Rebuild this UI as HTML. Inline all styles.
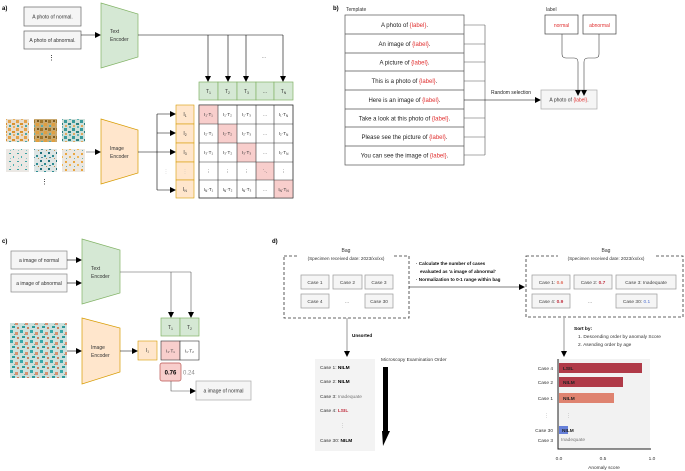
<!DOCTYPE html>
<html><head><meta charset="utf-8"><style>
html,body{margin:0;padding:0;background:#fff;}
svg{display:block;font-family:"Liberation Sans",sans-serif;}
</style></head><body>
<svg width="685" height="471" viewBox="0 0 685 471" xmlns="http://www.w3.org/2000/svg">
<defs>
<marker id="ar" markerWidth="6" markerHeight="6" refX="5" refY="3" orient="auto" markerUnits="userSpaceOnUse"><path d="M0,0 L6,3 L0,6 z" fill="#000"/></marker>
<pattern id="pA" width="8" height="8" patternUnits="userSpaceOnUse"><rect width="8" height="8" fill="#e8dccb"/><rect x="0" y="0" width="3" height="3" fill="#e3a34a"/><rect x="4" y="3" width="3" height="2" fill="#d9922e"/><rect x="1" y="5" width="2" height="2" fill="#4aa6a6"/><rect x="5" y="6" width="2" height="2" fill="#e6b060"/></pattern>
<pattern id="pB" width="8" height="8" patternUnits="userSpaceOnUse"><rect width="8" height="8" fill="#c9a970"/><rect x="0" y="0" width="3" height="3" fill="#a0762a"/><rect x="4" y="3" width="3" height="3" fill="#e0a040"/><rect x="1" y="5" width="2" height="2" fill="#5aaeae"/><rect x="5" y="0" width="2" height="2" fill="#7a5a20"/></pattern>
<pattern id="pC" width="8" height="8" patternUnits="userSpaceOnUse"><rect width="8" height="8" fill="#cfe0da"/><rect x="0" y="0" width="3" height="3" fill="#3a9a9a"/><rect x="4" y="3" width="3" height="2" fill="#2c8080"/><rect x="1" y="5" width="2" height="2" fill="#e0a860"/><rect x="5" y="6" width="2" height="2" fill="#60b0b0"/></pattern>
<pattern id="pD" width="8" height="8" patternUnits="userSpaceOnUse"><rect width="8" height="8" fill="#ebe8e4"/><rect x="1" y="1" width="2" height="1" fill="#3aa0a0"/><rect x="5" y="4" width="1" height="2" fill="#4ab0b0"/><rect x="2" y="6" width="1" height="1" fill="#88c8c8"/></pattern>
<pattern id="pE" width="8" height="8" patternUnits="userSpaceOnUse"><rect width="8" height="8" fill="#dde5e4"/><rect x="0" y="0" width="2" height="2" fill="#1f6e78"/><rect x="4" y="3" width="2" height="2" fill="#2a8a90"/><rect x="1" y="5" width="2" height="1" fill="#508f9a"/><rect x="6" y="6" width="1" height="1" fill="#c09050"/></pattern>
<pattern id="pF" width="8" height="8" patternUnits="userSpaceOnUse"><rect width="8" height="8" fill="#ece7e0"/><rect x="1" y="1" width="2" height="2" fill="#e9a640"/><rect x="5" y="4" width="2" height="2" fill="#efb858"/><rect x="2" y="6" width="1" height="1" fill="#6ab0b0"/></pattern>
<pattern id="pG" width="10" height="10" patternUnits="userSpaceOnUse"><rect width="10" height="10" fill="#cde0dc"/><rect x="0" y="0" width="3" height="3" fill="#3aa8a8"/><rect x="5" y="2" width="3" height="3" fill="#d89070"/><rect x="2" y="6" width="3" height="2" fill="#2f9a9a"/><rect x="7" y="7" width="2" height="2" fill="#c88060"/><rect x="4" y="4" width="1" height="1" fill="#5bb8b0"/></pattern>
</defs>

<g font-size="5" fill="#000">
<!-- ===== a ===== -->
<text x="2" y="10" font-weight="bold" font-size="6">a)</text>
<rect x="24" y="7" width="57" height="19" fill="#f5f5f5" stroke="#666" stroke-width="0.7"/>
<text x="52.5" y="18.5" text-anchor="middle" fill="#333">A photo of normal.</text>
<rect x="24" y="31" width="57" height="18" fill="#f5f5f5" stroke="#666" stroke-width="0.7"/>
<text x="52.5" y="42" text-anchor="middle" fill="#333">A photo of abnormal.</text>
<text x="51.5" y="60" text-anchor="middle" font-size="7">⋮</text>
<line x1="81" y1="35" x2="100" y2="35" stroke="#000" stroke-width="0.6" marker-end="url(#ar)"/>
<polygon points="101,3 138,14 138,57 101,68" fill="#d5e8d4" stroke="#82b366" stroke-width="0.7"/>
<text x="110" y="33" fill="#333">Text</text><text x="110" y="41" fill="#333">Encoder</text>
<path d="M138,35 H283" fill="none" stroke="#000" stroke-width="0.6"/>
<g stroke="#000" stroke-width="0.6">
<line x1="208" y1="35" x2="208" y2="81" marker-end="url(#ar)"/>
<line x1="228" y1="35" x2="228" y2="81" marker-end="url(#ar)"/>
<line x1="246" y1="35" x2="246" y2="81" marker-end="url(#ar)"/>
<line x1="283" y1="35" x2="283" y2="81" marker-end="url(#ar)"/>
</g>
<text x="264" y="58" text-anchor="middle" fill="#555">...</text>
<g fill="#d5e8d4" stroke="#82b366" stroke-width="0.7">
<rect x="199" y="82" width="19" height="18"/><rect x="218" y="82" width="19" height="18"/><rect x="237" y="82" width="19" height="18"/><rect x="256" y="82" width="18" height="18"/><rect x="274" y="82" width="19" height="18"/>
</g>
<g text-anchor="middle" fill="#333">
<text x="208.5" y="93">T<tspan font-size="3.5" dy="1">1</tspan></text>
<text x="227.5" y="93">T<tspan font-size="3.5" dy="1">2</tspan></text>
<text x="246.5" y="93">T<tspan font-size="3.5" dy="1">3</tspan></text>
<text x="265" y="93">...</text>
<text x="283.5" y="93">T<tspan font-size="3.5" dy="1">N</tspan></text>
</g>
<!-- images -->
<rect x="6" y="119" width="23" height="23" fill="url(#pA)"/>
<rect x="34" y="119" width="23" height="23" fill="url(#pB)"/>
<rect x="62" y="119" width="23" height="23" fill="url(#pC)"/>
<rect x="6" y="149" width="23" height="23" fill="url(#pD)"/>
<rect x="34" y="149" width="23" height="23" fill="url(#pE)"/>
<rect x="62" y="149" width="23" height="23" fill="url(#pF)"/>
<text x="44.5" y="184" text-anchor="middle" font-size="7">⋮</text>
<line x1="86" y1="152" x2="100" y2="152" stroke="#666" stroke-width="0.6" marker-end="url(#ar)"/>
<polygon points="101,119 138,130 138,173 101,184" fill="#ffe6cc" stroke="#d79b00" stroke-width="0.7"/>
<text x="110" y="150" fill="#333">Image</text><text x="110" y="158" fill="#333">Encoder</text>
<path d="M138,152 H157 M157,114 V190" fill="none" stroke="#000" stroke-width="0.6"/>
<g stroke="#000" stroke-width="0.6">
<line x1="157" y1="114" x2="175" y2="114" marker-end="url(#ar)"/>
<line x1="157" y1="133" x2="175" y2="133" marker-end="url(#ar)"/>
<line x1="157" y1="152" x2="175" y2="152" marker-end="url(#ar)"/>
<line x1="157" y1="190" x2="175" y2="190" marker-end="url(#ar)"/>
</g>
<text x="166" y="173" text-anchor="middle" fill="#aaa">⋮</text>
<g fill="#ffe6cc" stroke="#d79b00" stroke-width="0.6">
<rect x="176" y="105" width="18" height="19"/><rect x="176" y="124" width="18" height="19"/><rect x="176" y="143" width="18" height="19"/><rect x="176" y="162" width="18" height="18"/><rect x="176" y="180" width="18" height="18"/>
</g>
<g text-anchor="middle" fill="#333">
<text x="185" y="116">I<tspan font-size="3.5" dy="1">1</tspan></text>
<text x="185" y="135">I<tspan font-size="3.5" dy="1">2</tspan></text>
<text x="185" y="154">I<tspan font-size="3.5" dy="1">3</tspan></text>
<text x="185" y="173" fill="#aaa">⋮</text>
<text x="185" y="191">I<tspan font-size="3.5" dy="1">N</tspan></text>
</g>
<!-- matrix -->
<g stroke="#333" stroke-width="0.6" fill="#fff">
<rect x="199" y="105" width="94" height="93"/>
</g>
<g fill="#f8cecc">
<rect x="199" y="105" width="19" height="19"/><rect x="218" y="124" width="19" height="19"/><rect x="237" y="143" width="19" height="19"/><rect x="256" y="162" width="18" height="18"/><rect x="274" y="180" width="19" height="18"/>
</g>
<g stroke="#333" stroke-width="0.6" fill="none">
<path d="M218,105V198 M237,105V198 M256,105V198 M274,105V198 M199,124H293 M199,143H293 M199,162H293 M199,180H293"/>
<rect x="199" y="105" width="94" height="93"/>
</g>
<g text-anchor="middle" fill="#333" font-size="4.6">
<text x="208.5" y="116">I₁·T₁</text><text x="227.5" y="116">I₁·T₂</text><text x="246.5" y="116">I₁·T₃</text><text x="265" y="116">...</text><text x="283.5" y="116">I₁·T<tspan font-size="3.2" dy="1">N</tspan></text>
<text x="208.5" y="135">I₂·T₁</text><text x="227.5" y="135">I₂·T₂</text><text x="246.5" y="135">I₂·T₃</text><text x="265" y="135">...</text><text x="283.5" y="135">I₂·T<tspan font-size="3.2" dy="1">N</tspan></text>
<text x="208.5" y="154">I₃·T₁</text><text x="227.5" y="154">I₃·T₂</text><text x="246.5" y="154">I₃·T₃</text><text x="265" y="154">...</text><text x="283.5" y="154">I₃·T<tspan font-size="3.2" dy="1">N</tspan></text>
<text x="208.5" y="173">⋮</text><text x="227.5" y="173">⋮</text><text x="246.5" y="173">⋮</text><text x="265" y="173">⋱</text><text x="283.5" y="173">⋮</text>
<text x="208.5" y="191">I<tspan font-size="3.2" dy="1">N</tspan><tspan dy="-1">·T₁</tspan></text><text x="227.5" y="191">I<tspan font-size="3.2" dy="1">N</tspan><tspan dy="-1">·T₂</tspan></text><text x="246.5" y="191">I<tspan font-size="3.2" dy="1">N</tspan><tspan dy="-1">·T₃</tspan></text><text x="265" y="191">...</text><text x="283.5" y="191">I<tspan font-size="3.2" dy="1">N</tspan><tspan dy="-1">·T</tspan><tspan font-size="3.2" dy="1">N</tspan></text>
</g>

<!-- ===== b ===== -->
<text x="333" y="10" font-weight="bold" font-size="6">b)</text>
<text x="346" y="11" fill="#333">Template</text>
<g stroke="#555" stroke-width="0.7" fill="#fff">
<rect x="345" y="15" width="119" height="150"/>
</g>
<path d="M345,34H464 M345,53H464 M345,71H464 M345,90H464 M345,109H464 M345,127H464 M345,146H464" stroke="#555" stroke-width="0.7"/>
<g font-size="6" text-anchor="middle" fill="#222">
<text x="404.5" y="27">A photo of <tspan fill="#e03030">{label}</tspan>.</text>
<text x="404.5" y="46">An image of <tspan fill="#e03030">{label}</tspan>.</text>
<text x="404.5" y="64.5">A picture of <tspan fill="#e03030">{label}</tspan>.</text>
<text x="404.5" y="83">This is a photo of <tspan fill="#e03030">{label}</tspan>.</text>
<text x="404.5" y="102">Here is an image of <tspan fill="#e03030">{label}</tspan>.</text>
<text x="404.5" y="120.5">Take a look at this photo of <tspan fill="#e03030">{label}</tspan>.</text>
<text x="404.5" y="139">Please see the picture of <tspan fill="#e03030">{label}</tspan>.</text>
<text x="404.5" y="157.5">You can see the image of <tspan fill="#e03030">{label}</tspan>.</text>
</g>
<path d="M464,25H485 M464,44H485 M464,62H485 M464,81H485 M464,118H485 M464,137H485 M464,155H485 M485,25V155" stroke="#555" stroke-width="0.6" fill="none"/>
<line x1="464" y1="100" x2="540" y2="100" stroke="#000" stroke-width="0.6" marker-end="url(#ar)"/>
<text x="491" y="94" fill="#222">Random selection</text>
<rect x="541" y="90" width="56" height="19" fill="#f5f5f5" stroke="#aaa" stroke-width="0.7"/>
<text x="569" y="101.5" text-anchor="middle" fill="#333">A photo of <tspan fill="#e03030">{label}</tspan>.</text>
<text x="546" y="11" fill="#333">label</text>
<rect x="545" y="15" width="33" height="19" fill="#fff" stroke="#444" stroke-width="0.7"/>
<rect x="583" y="15" width="33" height="19" fill="#fff" stroke="#444" stroke-width="0.7"/>
<text x="561.5" y="27" text-anchor="middle" fill="#e03030">normal</text>
<text x="599.5" y="27" text-anchor="middle" fill="#e03030">abnormal</text>
<path d="M562,34 V54 Q562,58 566,58 H574 Q578,58 578,62 V95" fill="none" stroke="#444" stroke-width="0.6" marker-end="url(#ar)"/>
<path d="M599,34 V54 Q599,58 595,58 H588 Q584,58 584,62 V95" fill="none" stroke="#444" stroke-width="0.6" marker-end="url(#ar)"/>

<!-- ===== c ===== -->
<text x="2" y="243" font-weight="bold" font-size="6">c)</text>
<rect x="11" y="251" width="56" height="18" fill="#f5f5f5" stroke="#888" stroke-width="0.7"/>
<text x="39" y="262" text-anchor="middle" fill="#333">a image of normal</text>
<rect x="11" y="274" width="56" height="18" fill="#f5f5f5" stroke="#888" stroke-width="0.7"/>
<text x="39" y="285" text-anchor="middle" fill="#333">a image of abnormal</text>
<line x1="67" y1="260" x2="81" y2="260" stroke="#000" stroke-width="0.6" marker-end="url(#ar)"/>
<line x1="67" y1="283" x2="81" y2="283" stroke="#000" stroke-width="0.6" marker-end="url(#ar)"/>
<polygon points="82,239 120,250 120,293 82,304" fill="#d5e8d4" stroke="#82b366" stroke-width="0.7"/>
<text x="91" y="270" fill="#333">Text</text><text x="91" y="278" fill="#333">Encoder</text>
<path d="M120,272H191" stroke="#555" stroke-width="0.6" fill="none"/>
<line x1="171" y1="272" x2="171" y2="317" stroke="#555" stroke-width="0.6" marker-end="url(#ar)"/>
<line x1="191" y1="272" x2="191" y2="317" stroke="#555" stroke-width="0.6" marker-end="url(#ar)"/>
<rect x="161" y="318" width="19" height="18" fill="#d5e8d4" stroke="#82b366" stroke-width="0.7"/>
<rect x="180" y="318" width="19" height="18" fill="#d5e8d4" stroke="#82b366" stroke-width="0.7"/>
<text x="170.5" y="329" text-anchor="middle" fill="#333">T<tspan font-size="3.5" dy="1">1</tspan></text>
<text x="189.5" y="329" text-anchor="middle" fill="#333">T<tspan font-size="3.5" dy="1">2</tspan></text>
<rect x="10" y="323" width="57" height="55" fill="url(#pG)"/>
<line x1="67" y1="351" x2="81" y2="351" stroke="#000" stroke-width="0.6" marker-end="url(#ar)"/>
<polygon points="82,318 120,328 120,372 82,384" fill="#ffe6cc" stroke="#d79b00" stroke-width="0.7"/>
<text x="91" y="349" fill="#333">Image</text><text x="91" y="357" fill="#333">Encoder</text>
<line x1="120" y1="351" x2="137" y2="351" stroke="#000" stroke-width="0.6" marker-end="url(#ar)"/>
<rect x="138" y="341" width="19" height="19" fill="#ffe6cc" stroke="#d79b00" stroke-width="0.6"/>
<text x="147.5" y="352" text-anchor="middle" fill="#333">I₁</text>
<rect x="161" y="341" width="19" height="19" fill="#f8cecc" stroke="#333" stroke-width="0.6"/>
<rect x="180" y="341" width="19" height="19" fill="#fff" stroke="#333" stroke-width="0.6"/>
<text x="170.5" y="352.5" text-anchor="middle" font-size="4.6" fill="#333">I₁·T₁</text>
<text x="189.5" y="352.5" text-anchor="middle" font-size="4.6" fill="#333">I₁·T₂</text>
<rect x="160" y="363" width="21" height="18" rx="2" fill="#f8cecc" stroke="#b85450" stroke-width="0.7"/>
<text x="170.5" y="374.5" text-anchor="middle" font-weight="bold" font-size="6">0.76</text>
<text x="183" y="374.5" font-size="6" fill="#888">0.24</text>
<path d="M171,381V391H195" fill="none" stroke="#555" stroke-width="0.6" marker-end="url(#ar)"/>
<rect x="196" y="381" width="55" height="19" fill="#f5f5f5" stroke="#aaa" stroke-width="0.7"/>
<text x="223.5" y="392.5" text-anchor="middle" fill="#333">a image of normal</text>

<!-- ===== d ===== -->
<text x="272" y="243" font-weight="bold" font-size="6">d)</text>
<text x="346" y="252" text-anchor="middle" fill="#333">Bag</text>
<rect x="284" y="256" width="125" height="62" fill="none" stroke="#333" stroke-width="0.8" stroke-dasharray="3,2"/>
<rect x="298" y="255" width="96" height="6" fill="#fff"/>
<text x="346" y="260" text-anchor="middle" fill="#333" font-size="4.6">(Specimen received date: 2023/xx/xx)</text>
<g fill="#f5f5f5" stroke="#999" stroke-width="0.7">
<rect x="301" y="275" width="28" height="14"/><rect x="333" y="275" width="29" height="14"/><rect x="365" y="275" width="28" height="14"/>
<rect x="301" y="294" width="28" height="14"/><rect x="365" y="294" width="28" height="14"/>
</g>
<g text-anchor="middle" fill="#444" font-size="4.8">
<text x="315" y="284">Case 1</text><text x="347.5" y="284">Case 2</text><text x="379" y="284">Case 3</text>
<text x="315" y="303">Case 4</text><text x="347" y="303">...</text><text x="379" y="303">Case 30</text>
</g>
<line x1="409" y1="287" x2="524" y2="287" stroke="#000" stroke-width="0.6" marker-end="url(#ar)"/>
<g font-weight="bold" font-size="4.6" fill="#111">
<text x="416" y="265">· Calculate the number of cases</text>
<text x="420" y="273">evaluated as 'a image of abnormal'</text>
<text x="416" y="281">· Normalization to 0-1 range within bag</text>
</g>
<text x="606" y="252" text-anchor="middle" fill="#333">Bag</text>
<rect x="526" y="256" width="157" height="61" fill="none" stroke="#333" stroke-width="0.8" stroke-dasharray="3,2"/>
<rect x="558" y="255" width="96" height="6" fill="#fff"/>
<text x="606" y="260" text-anchor="middle" fill="#333" font-size="4.6">(Specimen received date: 2023/xx/xx)</text>
<g fill="#f5f5f5" stroke="#999" stroke-width="0.7">
<rect x="532" y="275" width="38" height="14"/><rect x="574" y="275" width="38" height="14"/><rect x="616" y="275" width="60" height="14"/>
<rect x="532" y="294" width="38" height="14"/><rect x="616" y="294" width="41" height="14"/>
</g>
<g text-anchor="middle" fill="#444" font-size="4.8">
<text x="551" y="284">Case 1: <tspan fill="#e07060" font-weight="bold">0.6</tspan></text>
<text x="593" y="284">Case 2: <tspan fill="#c03040" font-weight="bold">0.7</tspan></text>
<text x="646" y="284">Case 3: Inadequate</text>
<text x="551" y="303">Case 4: <tspan fill="#c03040" font-weight="bold">0.9</tspan></text>
<text x="590" y="303">...</text>
<text x="636.5" y="303">Case 30: <tspan fill="#5070d0">0.1</tspan></text>
</g>
<!-- left down -->
<line x1="347" y1="318" x2="347" y2="356" stroke="#555" stroke-width="0.6" marker-end="url(#ar)"/>
<text x="352" y="337" font-weight="bold" font-size="4.6">Unsorted</text>
<rect x="315" y="359" width="60" height="92" fill="#f3f3f3"/>
<g font-size="4.8" fill="#333">
<text x="320" y="369">Case 1: <tspan font-weight="bold" fill="#000">NILM</tspan></text>
<text x="320" y="383">Case 2: <tspan font-weight="bold" fill="#000">NILM</tspan></text>
<text x="320" y="398">Case 3: <tspan fill="#777">Inadequate</tspan></text>
<text x="320" y="412">Case 4: <tspan font-weight="bold" fill="#c03040">LSIL</tspan></text>
<text x="340" y="427" fill="#888">⋮</text>
<text x="320" y="442">Case 30: <tspan font-weight="bold" fill="#000">NILM</tspan></text>
</g>
<text x="381" y="361" font-size="4.8" fill="#333">Microscopy Examination Order</text>
<polygon points="383,367 388,367 388,431 390,431 383,446 382,431 383,431" fill="#000"/>
<!-- right down -->
<line x1="564" y1="318" x2="564" y2="356" stroke="#555" stroke-width="0.6" marker-end="url(#ar)"/>
<text x="574" y="330" font-weight="bold" font-size="4.8">Sort by:</text>
<text x="578" y="338" font-size="4.8" fill="#333">1. Descending order by anomaly Score</text>
<text x="578" y="346" font-size="4.8" fill="#333">2. Asending order by age</text>
<!-- chart -->
<rect x="558" y="359" width="92" height="90" fill="#f2f2f2"/>
<rect x="559" y="363" width="83" height="10" fill="#b03a48"/>
<rect x="559" y="377" width="64" height="10" fill="#b03a48"/>
<rect x="559" y="393" width="55" height="10" fill="#df8370"/>
<rect x="559" y="426" width="9" height="8" fill="#6680d9"/>
<path d="M558,359V449H651" stroke="#222" stroke-width="1" fill="none"/>
<g font-size="4.8" font-weight="bold" fill="#222">
<text x="563" y="370">LSIL</text><text x="563" y="384">NILM</text><text x="563" y="400">NILM</text><text x="562" y="432">NILM</text>
</g>
<text x="561" y="441" font-size="4.8" fill="#777">Inadequate</text>
<text x="566" y="417" font-size="5" fill="#888">⋮</text>
<g font-size="4.8" fill="#333" text-anchor="end">
<text x="553" y="370">Case 4</text><text x="553" y="384">Case 2</text><text x="553" y="400">Case 1</text>
<text x="549" y="417" fill="#888">⋮</text>
<text x="553" y="432">Case 30</text><text x="553" y="442">Case 3</text>
</g>
<g font-size="4.8" fill="#333" text-anchor="middle">
<text x="559" y="460">0.0</text><text x="603" y="460">0.5</text><text x="652" y="460">1.0</text>
<text x="604" y="469">Anomaly score</text>
</g>
</g>
</svg>
</body></html>
